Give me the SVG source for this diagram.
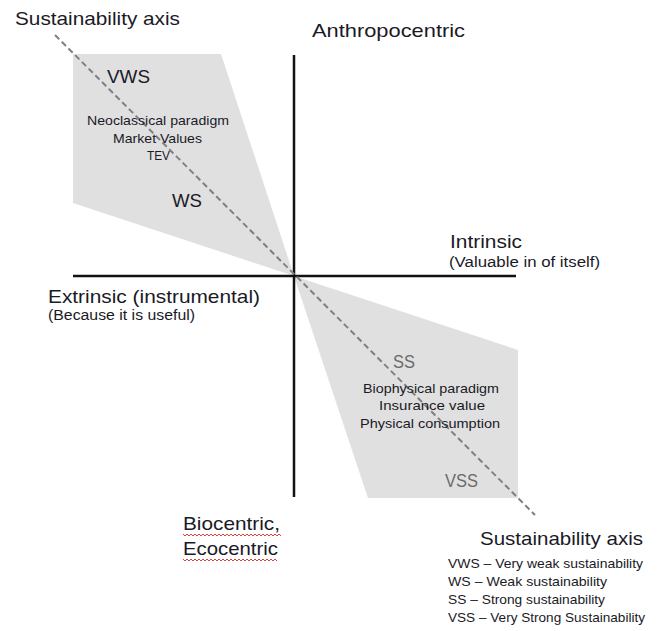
<svg xmlns="http://www.w3.org/2000/svg" width="663" height="631" viewBox="0 0 663 631">
  <defs>
    <style>
      text { font-family: "Liberation Sans", Arial, sans-serif; fill: #1a1a26; }
      .big { font-size: 19px; }
      .mid { font-size: 14px; }
      .small { font-size: 13.5px; }
      .grey { fill: #6a6a6a; }
      .zone { fill: #e0e0e0; stroke: none; }
      .axis { stroke: #111; stroke-width: 2.5; fill: none; }
      .sust { stroke: #808080; stroke-width: 2; stroke-dasharray: 6 3.5; fill: none; }
      .squiggle { stroke: #e0413c; stroke-width: 1; fill: none; }
    </style>
  </defs>

  <rect width="663" height="631" fill="#ffffff"/>

  <!-- shaded sustainability zones -->
  <g id="zone-weak">
    <polygon class="zone" points="73,54 221,54 294,276 73,203"/>
  </g>
  <g id="zone-strong">
    <polygon class="zone" points="294,276 518,350 518,498 368,498"/>
  </g>

  <!-- axes and sustainability axis -->
  <g id="connectors">
    <line class="axis" x1="294" y1="55" x2="294" y2="497"/>
    <line class="axis" x1="73" y1="276" x2="516" y2="276"/>
    <line class="sust" x1="55" y1="35" x2="535" y2="515"/>
  </g>

  <g id="label-sustainability-top">
    <text class="big" x="15" y="25" textLength="165" lengthAdjust="spacingAndGlyphs">Sustainability axis</text>
  </g>
  <g id="label-anthropocentric">
    <text class="big" x="312" y="37" textLength="153" lengthAdjust="spacingAndGlyphs">Anthropocentric</text>
  </g>
  <g id="label-intrinsic">
    <text class="big" x="450" y="248" textLength="72" lengthAdjust="spacingAndGlyphs">Intrinsic</text>
    <text class="mid" x="449" y="267" textLength="151" lengthAdjust="spacingAndGlyphs">(Valuable in of itself)</text>
  </g>
  <g id="label-extrinsic">
    <text class="big" x="48" y="303" textLength="212" lengthAdjust="spacingAndGlyphs">Extrinsic (instrumental)</text>
    <text class="mid" x="48" y="320" textLength="147" lengthAdjust="spacingAndGlyphs">(Because it is useful)</text>
  </g>
  <g id="label-biocentric">
    <text class="big" x="183" y="530" textLength="97" lengthAdjust="spacingAndGlyphs">Biocentric,</text>
    <text class="big" x="183" y="555" textLength="95" lengthAdjust="spacingAndGlyphs">Ecocentric</text>
    <path class="squiggle" d="M183,534 l2,2 l2,-2 l2,2 l2,-2 l2,2 l2,-2 l2,2 l2,-2 l2,2 l2,-2 l2,2 l2,-2 l2,2 l2,-2 l2,2 l2,-2 l2,2 l2,-2 l2,2 l2,-2 l2,2 l2,-2 l2,2 l2,-2 l2,2 l2,-2 l2,2 l2,-2 l2,2 l2,-2 l2,2 l2,-2 l2,2 l2,-2 l2,2 l2,-2 l2,2 l2,-2 l2,2 l2,-2 l2,2 l2,-2 l2,2 l2,-2 l2,2 l2,-2 l2,2 l2,-2 l2,2"/>
    <path class="squiggle" d="M183,559 l2,2 l2,-2 l2,2 l2,-2 l2,2 l2,-2 l2,2 l2,-2 l2,2 l2,-2 l2,2 l2,-2 l2,2 l2,-2 l2,2 l2,-2 l2,2 l2,-2 l2,2 l2,-2 l2,2 l2,-2 l2,2 l2,-2 l2,2 l2,-2 l2,2 l2,-2 l2,2 l2,-2 l2,2 l2,-2 l2,2 l2,-2 l2,2 l2,-2 l2,2 l2,-2 l2,2 l2,-2 l2,2 l2,-2 l2,2 l2,-2 l2,2 l2,-2 l2,2"/>
  </g>

  <g id="weak-side">
    <text class="big" x="107" y="83" textLength="43" lengthAdjust="spacingAndGlyphs">VWS</text>
    <text class="small" x="87" y="125" textLength="142" lengthAdjust="spacingAndGlyphs">Neoclassical paradigm</text>
    <text class="small" x="113" y="143" textLength="89" lengthAdjust="spacingAndGlyphs">Market Values</text>
    <text class="small" x="147" y="160" textLength="23" lengthAdjust="spacingAndGlyphs">TEV</text>
    <text class="big" x="172" y="207" textLength="30" lengthAdjust="spacingAndGlyphs">WS</text>
  </g>

  <g id="strong-side">
    <text class="big grey" x="393" y="368" textLength="22" lengthAdjust="spacingAndGlyphs">SS</text>
    <text class="small" x="363" y="393" textLength="136" lengthAdjust="spacingAndGlyphs">Biophysical paradigm</text>
    <text class="small" x="379" y="410" textLength="106" lengthAdjust="spacingAndGlyphs">Insurance value</text>
    <text class="small" x="360" y="428" textLength="140" lengthAdjust="spacingAndGlyphs">Physical consumption</text>
    <text class="big grey" x="445" y="487" textLength="33" lengthAdjust="spacingAndGlyphs">VSS</text>
  </g>

  <g id="legend">
    <text class="big" x="480" y="545" textLength="163" lengthAdjust="spacingAndGlyphs">Sustainability axis</text>
    <text class="small" x="448" y="568" textLength="195" lengthAdjust="spacingAndGlyphs">VWS – Very weak sustainability</text>
    <text class="small" x="448" y="586" textLength="159" lengthAdjust="spacingAndGlyphs">WS – Weak sustainability</text>
    <text class="small" x="448" y="604" textLength="157" lengthAdjust="spacingAndGlyphs">SS – Strong sustainability</text>
    <text class="small" x="448" y="622" textLength="197" lengthAdjust="spacingAndGlyphs">VSS – Very Strong Sustainability</text>
  </g>
</svg>
